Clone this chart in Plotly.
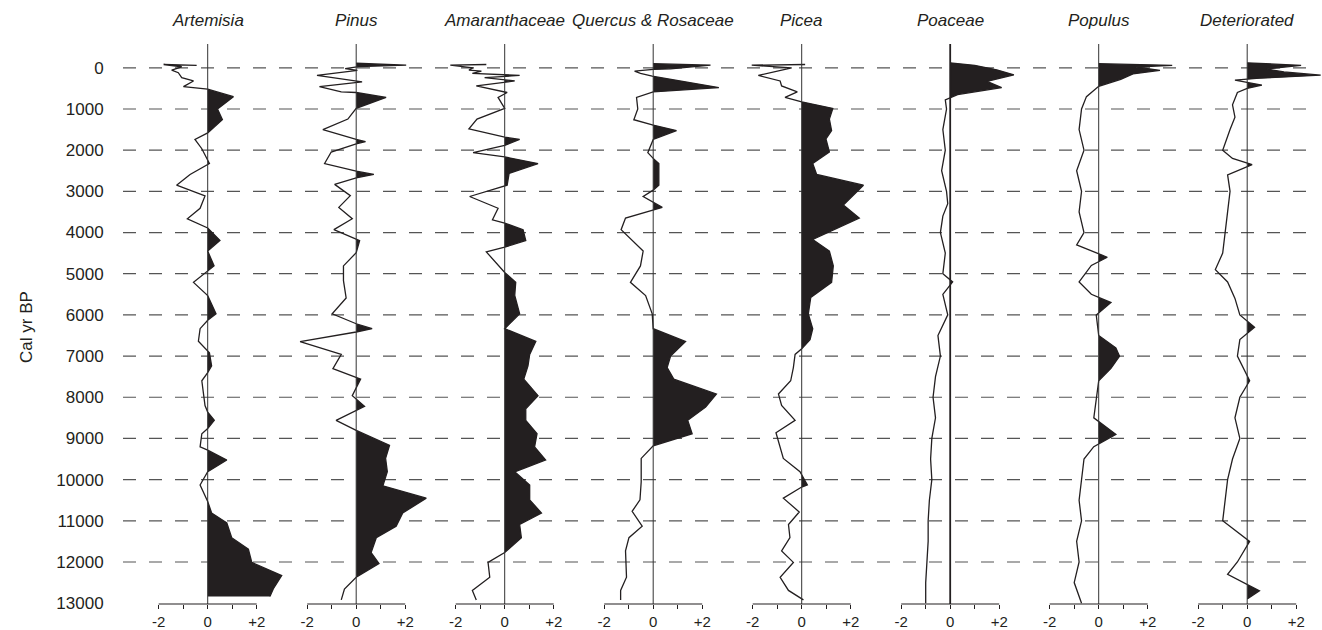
import plotly.graph_objects as go

# ---- pollen-type anomaly profiles (value, age in cal yr BP) ----
artemisia_age = [-60, -80, -25, 55, 120, 240, 320, 457, 520, 700, 1000, 1260, 1580, 1740, 1965, 2325,
                 2590, 2850, 3110, 3410, 3665, 3890, 4190, 4450, 4810, 5210, 5530, 5975, 6130, 6335,
                 6640, 6920, 7240, 7400, 7600, 8200, 8360, 8560, 8760, 8885, 9205, 9285, 9525, 9810,
                 10130, 10530, 10810, 11050, 11410, 11690, 12010, 12330, 12650, 12840]
artemisia_val = [-0.45, -1.8, -1.06, -1.47, -1.2, -1.06, -0.58, -0.99, 0.0, 1.05, 0.4, 0.6, 0.0, -0.52,
                 -0.24, 0.07, -0.72, -1.27, -0.11, -0.31, -0.83, 0.0, 0.5, 0.0, 0.26, -0.58, 0.0, 0.34,
                 0.0, -0.31, -0.38, 0.07, 0.16, 0.0, -0.24, -0.11, 0.0, 0.27, 0.0, -0.24, -0.31, 0.0,
                 0.78, 0.0, -0.31, 0.0, 0.16, 0.78, 0.98, 1.66, 1.8, 3.02, 2.68, 2.54]

pinus_age = [-110, -65, -30, 20, 60, 185, 340, 457, 585, 600, 720, 985, 1245, 1500, 1740, 1790, 1845,
             2045, 2325, 2510, 2590, 2670, 2830, 3105, 3390, 3665, 3930, 4170, 4195, 4490, 4810, 5170,
             5590, 5975, 6215, 6335, 6415, 6650, 6960, 7305, 7560, 7960, 8220, 8560, 8805, 9165, 9485,
             9805, 10150, 10450, 10810, 11130, 11410, 11770, 12035, 12370, 12655, 12920]
pinus_val = [0.0, 2.04, 0.1, -0.45, 0.05, -1.6, 0.24, -1.5, -0.61, 0.0, 1.22, 0.0, -0.34, -1.36, 0.0,
             0.38, 0.0, -1.02, -1.29, 0.0, 0.72, 0.0, -0.88, -0.24, -0.71, -0.16, -0.91, 0.0, 0.14, 0.0,
             -0.52, -0.52, -0.41, -0.98, 0.0, 0.65, 0.0, -2.29, -0.61, -0.95, 0.18, -0.16, 0.34, -0.82,
             0.0, 1.36, 1.2, 1.27, 1.09, 2.86, 1.9, 1.63, 0.82, 0.61, 0.93, 0.0, -0.48, -0.61]

amaranth_age = [-80, -64, 0, 56, 80, 136, 185, 240, 320, 440, 600, 720, 985, 1245, 1485, 1685, 1740,
                1885, 2060, 2165, 2325, 2565, 2850, 3125, 3410, 3690, 3770, 3930, 4195, 4355, 4470,
                4970, 5210, 5530, 5975, 6335, 6645, 6960, 7240, 7560, 7960, 8280, 8560, 8885, 9205,
                9525, 9810, 10130, 10490, 10810, 11090, 11410, 11770, 12010, 12370, 12690, 12920]
amaranth_val = [-0.75, -2.22, -1.29, -1.46, -0.95, -1.32, 0.61, -0.82, 0.41, -1.16, 0.1, -0.27, 0.0,
                -1.13, -1.46, 0.0, 0.61, 0.0, -1.29, 0.0, 1.36, 0.18, 0.1, -1.43, -0.27, -0.5, 0.0, 0.75,
                0.86, 0.0, -0.75, 0.0, 0.45, 0.41, 0.61, 0.0, 1.27, 1.02, 0.95, 0.78, 1.36, 0.86, 0.86,
                1.32, 1.22, 1.67, 0.41, 1.02, 1.02, 1.5, 0.61, 0.68, 0.0, -0.68, -0.61, -1.32, -1.16]

quercus_age = [-100, -64, 24, 40, 80, 136, 200, 480, 585, 720, 1000, 1260, 1390, 1525, 1740, 1885,
               2060, 2200, 2325, 2850, 2970, 3125, 3390, 3650, 3930, 4450, 4810, 5210, 5530, 5975,
               6335, 6645, 7000, 7280, 7560, 7920, 8240, 8560, 8885, 9180, 9485, 10050, 10490, 10770,
               11130, 11410, 11730, 12370, 12690, 12920]
quercus_val = [0.0, 2.34, 0.71, 0.0, -0.76, -0.52, -0.04, 2.68, 0.0, -0.68, -0.63, -0.79, 0.0, 0.95,
               0.0, -0.11, -0.22, 0.0, 0.23, 0.23, 0.0, -0.41, 0.37, -1.13, -1.31, -0.41, -0.52, -0.93,
               -0.31, -0.04, 0.0, 1.32, 0.71, 0.57, 0.84, 2.58, 2.14, 1.41, 1.59, 0.0, -0.49, -0.49,
               -0.54, -0.86, -0.45, -0.99, -1.13, -1.09, -1.33, -1.33]

picea_age = [-80, -64, 0, 185, 320, 440, 585, 720, 825, 985, 1245, 1525, 1725, 2045, 2325, 2590, 2850,
             3330, 3650, 4170, 4450, 4810, 5210, 5575, 5975, 6335, 6600, 6825, 6960, 7280, 7600, 7920,
             8200, 8560, 8860, 9205, 9485, 9810, 10130, 10180, 10450, 10785, 11090, 11410, 11730,
             12010, 12370, 12690, 12920]
picea_val = [0.14, -2.04, -0.41, -1.77, -0.88, -0.82, -0.18, -0.68, 0.0, 1.27, 1.13, 1.22, 0.99, 1.13,
             0.45, 0.61, 2.52, 1.7, 2.35, 0.45, 1.13, 1.29, 1.22, 0.37, 0.27, 0.45, 0.34, 0.0, -0.27,
             -0.34, -0.45, -0.95, -0.82, -0.27, -1.05, -0.88, -0.75, -0.07, 0.23, 0.0, -0.75, -0.1,
             -0.54, -0.48, -0.82, -0.34, -0.88, -0.54, 0.07]

poaceae_age = [-120, -60, 50, 170, 330, 480, 650, 780, 1000, 1500, 2000, 2500, 3000, 3300, 3600, 4000,
               4500, 5000, 5200, 5500, 6000, 6500, 7000, 7500, 8000, 8500, 9000, 9500, 10000, 10500,
               11000, 11500, 12000, 12500, 13000]
poaceae_val = [0.0, 1.0, 1.9, 2.6, 1.5, 2.1, 0.3, -0.2, -0.15, -0.3, -0.2, -0.35, -0.15, -0.1, -0.3,
               -0.4, -0.2, -0.3, 0.1, -0.3, -0.1, -0.5, -0.4, -0.6, -0.7, -0.6, -0.75, -0.8, -0.75,
               -0.85, -0.9, -0.9, -0.95, -1.0, -1.0]

populus_age = [-100, -60, -20, 60, 150, 280, 450, 700, 1000, 1500, 2000, 2500, 3000, 3500, 4000, 4300,
               4600, 4800, 5200, 5500, 5700, 6000, 6500, 6800, 7000, 7300, 7600, 8000, 8500, 8900,
               9200, 9500, 10000, 10500, 11000, 11500, 12000, 12500, 13000]
populus_val = [0.0, 3.0, 1.5, 2.5, 1.4, 0.9, 0.0, -0.5, -0.7, -0.8, -0.6, -0.9, -0.7, -0.8, -0.6, -0.9,
               0.35, -0.3, -0.8, -0.3, 0.5, -0.1, 0.0, 0.7, 0.85, 0.5, 0.0, -0.1, -0.2, 0.7, -0.2,
               -0.6, -0.7, -0.8, -0.7, -0.9, -0.8, -1.0, -0.7]

deter_age = [-120, -60, 30, 100, 180, 250, 300, 420, 500, 600, 900, 1200, 1500, 2000, 2200, 2350,
             2600, 3000, 3500, 4000, 4500, 4900, 5200, 5600, 6000, 6300, 6600, 7000, 7600, 8000, 8500,
             9000, 9500, 10000, 10500, 11000, 11500, 12000, 12300, 12700, 12900]
deter_val = [0.0, 2.2, 0.8, 1.5, 3.0, 0.5, -0.5, 0.6, 0.0, -0.4, -0.6, -0.5, -0.7, -1.0, -0.6, 0.2,
             -0.8, -0.7, -0.8, -0.9, -1.0, -1.3, -0.8, -0.5, -0.3, 0.3, -0.3, -0.4, 0.1, -0.3, -0.5,
             -0.3, -0.6, -0.8, -0.9, -1.0, 0.1, -0.4, -0.8, 0.5, 0.0]

taxa = ["Artemisia", "Pinus", "Amaranthaceae", "Quercus & Rosaceae", "Picea", "Poaceae", "Populus",
        "Deteriorated"]
series = [(artemisia_age, artemisia_val), (pinus_age, pinus_val), (amaranth_age, amaranth_val),
          (quercus_age, quercus_val), (picea_age, picea_val), (poaceae_age, poaceae_val),
          (populus_age, populus_val), (deter_age, deter_val)]

age_ticks = list(range(0, 13001, 1000))
age_ticktext = [str(t) for t in age_ticks]
x_tickvals = [-2, -1, 0, 1, 2]
x_ticktext = ["-2", "", "0", "", "+2"]

# ---- geometry ----
W, H = 1322, 630
M_L, M_R, M_T, M_B = 123, 0, 44, 21
PW = W - M_L - M_R
PLOT_H = H - M_T - M_B
PX_PER_UNIT = 24.5
ZERO0, STEP = 207.7, 148.5
Y_RANGE = [13020, -578]
INK = "#231f20"


def positive_part(age, val):
    """Clip a profile at zero so only its positive excursions remain."""
    xs, ys = [], []
    for i in range(len(val)):
        if i > 0:
            v0, v1 = val[i - 1], val[i]
            if (v0 < 0 < v1) or (v1 < 0 < v0):
                t = v0 / (v0 - v1)
                xs.append(0.0)
                ys.append(age[i - 1] + t * (age[i] - age[i - 1]))
        xs.append(max(val[i], 0.0))
        ys.append(age[i])
    return xs, ys


fig = go.Figure()
shapes = []
annotations = []

for i, (name, (age, val)) in enumerate(zip(taxa, series)):
    ax = "" if i == 0 else str(i + 1)
    zero_px = ZERO0 + i * STEP
    left_px = max(zero_px - 3.6 * PX_PER_UNIT, M_L)
    right_px = min(zero_px + 3.3 * PX_PER_UNIT, W - M_R)
    xr = [(left_px - zero_px) / PX_PER_UNIT, (right_px - zero_px) / PX_PER_UNIT]
    dom = [(left_px - M_L) / PW, (right_px - M_L) / PW]

    px_, py_ = positive_part(age, val)
    fig.add_trace(go.Scatter(x=px_, y=py_, mode="lines", fill="tozerox", fillcolor=INK,
                             line=dict(width=0, color=INK), xaxis="x" + ax, yaxis="y",
                             hoverinfo="skip", showlegend=False))
    fig.add_trace(go.Scatter(x=val, y=age, mode="lines", line=dict(width=1.3, color=INK),
                             xaxis="x" + ax, yaxis="y", showlegend=False, name=name))

    fig.update_layout(**{
        "xaxis" + ax: dict(domain=dom, range=xr, anchor="y", showgrid=False, zeroline=False,
                           showline=False, tickmode="array", tickvals=x_tickvals,
                           ticktext=x_ticktext, ticks="outside", ticklen=4, tickwidth=1,
                           tickcolor=INK, tickfont=dict(size=15, color=INK), fixedrange=True)
    })

    # zero line of the panel
    is_bold = name == "Poaceae"
    shapes.append(dict(type="line", xref="x" + ax, yref="paper", x0=0, x1=0, y0=0, y1=1,
                       line=dict(color=INK if is_bold else "#333333", width=1.8 if is_bold else 1),
                       layer="above"))
    # short scale bar from -2 to +2
    shapes.append(dict(type="line", xref="x" + ax, yref="paper", x0=-2, x1=2, y0=0, y1=0,
                       line=dict(color=INK, width=1.2)))
    # panel title, centred over the zero line, 20 px from the top of the page
    annotations.append(dict(text="<i>" + name + "</i>", xref="x" + ax, yref="paper", x=0,
                            y=(H - M_B - 20) / PLOT_H, yanchor="middle",
                            showarrow=False, font=dict(size=17, color=INK)))

# horizontal dashed age lines
for t in age_ticks[:-1]:
    shapes.append(dict(type="line", xref="paper", yref="y", x0=0, x1=(1312 - M_L) / PW, y0=t, y1=t,
                       line=dict(color="#555555", width=1.2, dash="13px,13px"), layer="below"))

annotations.append(dict(text="Cal yr BP", xref="paper", yref="paper",
                        x=(15 - M_L) / PW, y=(H - M_B - 330) / PLOT_H, textangle=-90,
                        showarrow=False, font=dict(size=17, color=INK)))

fig.update_layout(
    width=W, height=H,
    margin=dict(l=M_L, r=M_R, t=M_T, b=M_B, pad=0),
    paper_bgcolor="white", plot_bgcolor="rgba(0,0,0,0)",
    font=dict(family="Liberation Sans, Arial, sans-serif", color=INK),
    yaxis=dict(range=Y_RANGE, tickmode="array", tickvals=age_ticks, ticktext=age_ticktext,
               showgrid=False, zeroline=False, showline=False, ticks="outside", ticklen=15,
               tickcolor="rgba(0,0,0,0)", tickfont=dict(size=17, color=INK), anchor="x",
               fixedrange=True),
    shapes=shapes, annotations=annotations, showlegend=False,
)

fig.write_html("out.html")
